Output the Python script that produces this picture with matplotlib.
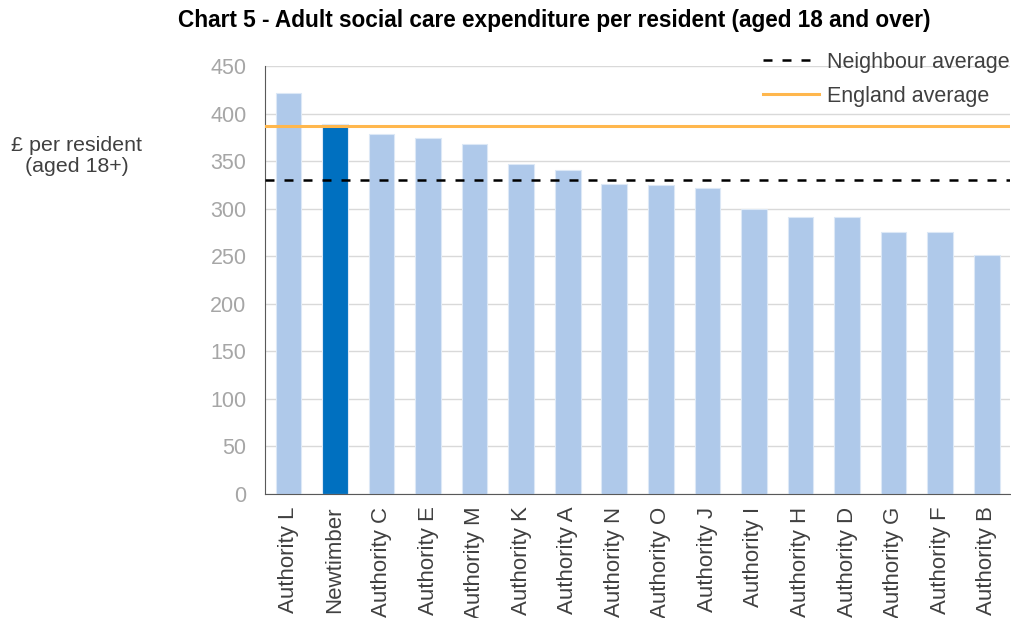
import matplotlib.pyplot as plt

plt.rcParams['font.family'] = ['Liberation Sans', 'DejaVu Sans']

## categorias y valores
autoridades = ['Authority L', 'Newtimber', 'Authority C', 'Authority E', 'Authority M',
               'Authority K', 'Authority A', 'Authority N', 'Authority O', 'Authority J',
               'Authority I', 'Authority H', 'Authority D', 'Authority G', 'Authority F',
               'Authority B']
gasto = [422, 389, 378, 374, 368, 347, 341, 326, 325, 322, 300, 291, 291, 276, 276, 251]
media_vecinos = 330
media_inglaterra = 387

colores = ['#0070C0' if a == 'Newtimber' else '#AFC9EA' for a in autoridades]

fig = plt.figure(figsize=(10.12, 6.18), dpi=100)
ax = fig.add_axes([0.262, 0.2006, 0.736, 0.6926])

ax.bar(autoridades, gasto, width=0.55, color=colores, edgecolor='#DCE8F6', linewidth=0.8, zorder=2)
ax.axhline(media_vecinos, color='black', linestyle=(0, (3.6, 4)), linewidth=1.8, zorder=3,
           label='Neighbour average')
ax.axhline(media_inglaterra, color='#FFB74D', linewidth=2.2, zorder=3, label='England average')

ax.set_xlim(-0.5, len(autoridades) - 0.5)
ax.set_ylim(0, 450)
ax.set_yticks(range(0, 451, 50))
ax.grid(axis='y', color='#D9D9D9', linewidth=1, zorder=0)

for s in ['top', 'right']:
    ax.spines[s].set_visible(False)
ax.spines['left'].set_color('#595959')
ax.spines['bottom'].set_color('#595959')

ax.tick_params(axis='y', length=0, labelsize=15.5, labelcolor='#A6A6A6', pad=13.5)
ax.tick_params(axis='x', length=0, labelsize=16, labelcolor='#404040', rotation=90, pad=9)

fig.text(0.076, 0.747, '£ per resident\n(aged 18+)', ha='center', va='center',
         fontsize=15.4, color='#404040', linespacing=1.15)
fig.text(0.548, 0.967, 'Chart 5 - Adult social care expenditure per resident (aged 18 and over)',
         ha='center', va='center', fontsize=16.3, fontweight='bold', color='black')

leg = fig.legend(loc='upper right', bbox_to_anchor=(0.998, 0.916), frameon=False, fontsize=15.5,
                 handlelength=2.6, handletextpad=0.4, labelspacing=0.6, borderpad=0,
                 borderaxespad=0)
for t in leg.get_texts():
    t.set_color('#404040')

plt.savefig('out.png')
